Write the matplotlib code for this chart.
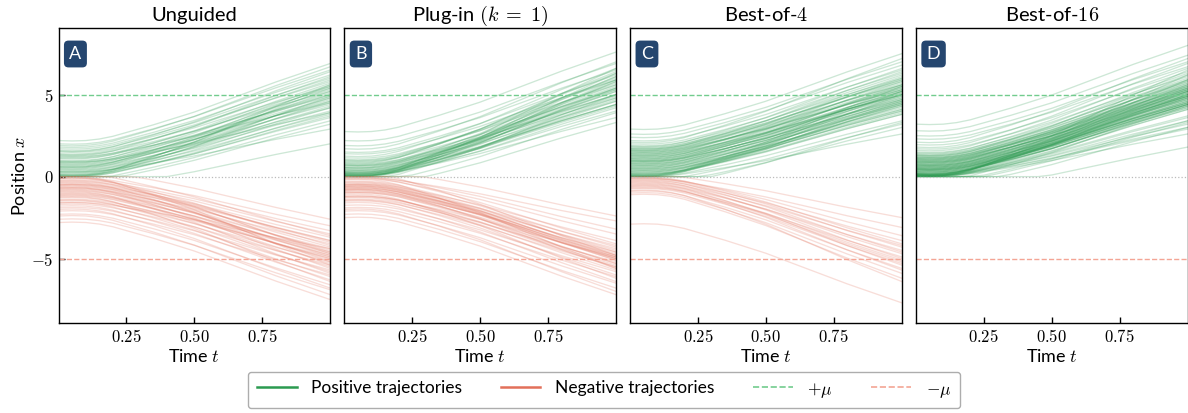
import matplotlib
matplotlib.use("Agg")
import matplotlib.pyplot as plt
from matplotlib.lines import Line2D
from matplotlib.ticker import FuncFormatter
import numpy as np

plt.rcParams['font.family'] = ['Lato', 'DejaVu Sans']
plt.rcParams['mathtext.fontset'] = 'cm'

# time grid and shared trajectory shape (fraction of start->end travel)
t_grid = [0.0, 0.05, 0.1, 0.15, 0.2, 0.25, 0.3, 0.35, 0.4, 0.45, 0.5,
          0.55, 0.6, 0.65, 0.7, 0.75, 0.8, 0.85, 0.9, 0.95, 1.0]
shape = [0.0, -0.005, 0.0, 0.02, 0.055, 0.105, 0.155, 0.205, 0.26, 0.315, 0.37,
         0.435, 0.5, 0.565, 0.63, 0.695, 0.76, 0.82, 0.88, 0.94, 1.0]

titles = ["Unguided", r"Plug-in $(k\;=\;1)$", "Best-of-$4$", "Best-of-$16$"]
panel_tags = ["A", "B", "C", "D"]
mu = 5

# --- Unguided
a_pos_start = [2.2, 2.0, 1.9, 1.8, 1.7, 1.6, 1.55, 1.5, 1.4, 1.35, 1.3, 1.2, 1.15, 1.1, 1.0,
               0.95, 0.9, 0.85, 0.8, 0.75, 0.7, 0.65, 0.6, 0.55, 0.5, 0.45, 0.4, 0.35, 0.3, 0.25,
               0.2, 0.15, 0.1, 0.05, 0.02, 0.08, -0.15, 0.12, 0.03, -0.3, -0.7, 0.6, 0.9, 1.25, 0.3]
a_pos_end = [6.9, 6.5, 6.7, 6.2, 6.0, 5.8, 6.4, 5.5, 5.9, 5.2, 6.1, 5.4, 4.9, 5.7, 5.0,
             5.6, 4.6, 5.3, 4.8, 5.1, 4.4, 5.0, 4.7, 4.2, 5.2, 4.5, 4.0, 4.8, 4.3, 3.8,
             4.6, 5.4, 3.6, 4.9, 3.9, 5.6, 3.4, 4.2, 3.7, 3.2, 2.0, 5.5, 3.9, 4.5, 2.9]
a_neg_start = [-2.8, -2.6, -2.4, -2.3, -2.1, -2.0, -1.9, -1.8, -1.7, -1.6, -1.5, -1.45, -1.4, -1.3, -1.25,
               -1.2, -1.1, -1.05, -1.0, -0.95, -0.9, -0.85, -0.8, -0.75, -0.7, -0.65, -0.6, -0.55, -0.5, -0.45,
               -0.4, -0.35, -0.3, -0.25, -0.2, -0.1, -0.03, -0.08, 0.15, -0.12, 0.4, -1.15, -0.7, -0.5, -1.6]
a_neg_end = [-7.5, -6.9, -7.2, -6.6, -6.0, -6.8, -5.7, -6.3, -5.4, -6.1, -5.2, -5.8, -4.9, -5.5, -6.4,
             -5.0, -4.6, -5.3, -4.8, -5.9, -4.4, -5.1, -4.7, -4.1, -5.6, -4.5, -3.9, -4.9, -4.3, -3.7,
             -5.2, -4.0, -3.5, -4.6, -3.3, -4.2, -5.4, -3.0, -3.6, -4.7, -2.6, -5.0, -4.8, -3.9, -4.4]

# --- Plug-in (k=1)
b_pos_start = [2.75, 2.2, 1.9, 1.7, 1.5, 1.4, 1.25, 1.15, 1.05, 0.95, 0.9, 0.8, 0.75, 0.7, 0.65, 0.6,
               0.55, 0.5, 0.45, 0.4, 0.35, 0.3, 0.25, 0.2, 0.15, 0.1, 0.05, 0.02, 0.07, 0.12, -0.15, 0.04,
               0.18, -0.35, 0.09, 0.28, -0.6, 0.4, 0.7, 0.2, 1.0, 0.14, 0.55, 0.1, 0.3, 0.85, 0.22, 0.06]
b_pos_end = [7.6, 6.9, 6.5, 7.0, 6.2, 5.9, 6.6, 5.6, 6.0, 5.3, 6.3, 5.0, 5.7, 5.4, 4.8, 6.1,
             5.2, 4.6, 5.5, 5.0, 4.4, 5.8, 4.9, 4.3, 5.3, 4.7, 5.8, 4.2, 6.3, 3.6, 5.0, 4.6,
             6.6, 3.9, 5.4, 4.4, 3.3, 5.4, 5.0, 4.4, 5.9, 5.9, 5.6, 4.0, 5.2, 6.4, 6.1, 4.8]
b_neg_start = [-2.5, -2.3, -2.1, -2.0, -1.9, -1.75, -1.6, -1.5, -1.45, -1.4, -1.3, -1.25, -1.2, -1.1,
               -1.0, -0.95, -0.9, -0.85, -0.8, -0.75, -0.7, -0.65, -0.6, -0.55, -0.5, -0.45, -0.4, -0.3,
               -0.2, -0.1, -0.04, 0.15, -0.08, 0.4, -0.6, -0.7, -1.0, -0.5, -0.8, -0.15, -1.2, -0.35]
b_neg_end = [-7.2, -6.8, -6.5, -7.0, -6.1, -5.8, -6.4, -5.5, -6.0, -5.2, -5.7, -4.9, -5.4, -6.2,
             -5.0, -4.6, -5.3, -4.8, -5.6, -4.4, -5.1, -4.7, -4.2, -5.0, -4.5, -3.9, -4.9, -4.3,
             -5.6, -4.1, -3.2, -4.8, -2.7, -2.4, -5.1, -4.9, -5.3, -4.8, -5.0, -3.5, -5.5, -4.6]

# --- Best-of-4
c_pos_start = [2.9, 2.6, 2.4, 2.2, 2.1, 2.0, 1.9, 1.85, 1.8, 1.75,
               1.7, 1.65, 1.6, 1.55, 1.5, 1.45, 1.4, 1.35, 1.3, 1.25,
               1.2, 1.15, 1.1, 1.05, 1.0, 0.95, 0.9, 0.85, 0.8, 0.75,
               0.7, 0.65, 0.6, 0.55, 0.5, 0.45, 0.4, 0.35, 0.3, 0.25,
               0.2, 0.15, 0.1, 0.05, 0.03, 0.08, -0.2, 0.12, -0.4, 0.02,
               1.6, 1.2, 0.9, 0.6, 1.4, 1.0, 0.3, 0.8, 1.7, 0.5,
               1.1, 0.2, 1.3, 0.7, 0.06, 0.4, 1.5, 0.95, 0.15, -0.6]
c_pos_end = [7.5, 7.0, 6.8, 6.5, 7.2, 6.3, 6.0, 6.6, 5.8, 6.2,
             5.6, 6.4, 5.9, 5.3, 6.1, 5.5, 5.7, 5.0, 6.0, 5.4,
             5.2, 5.8, 4.9, 5.5, 5.1, 4.7, 5.6, 5.0, 4.6, 5.3,
             4.8, 4.4, 5.2, 4.5, 4.2, 4.9, 4.3, 4.0, 4.7, 4.1,
             3.8, 4.5, 5.2, 5.0, 3.4, 4.6, 3.2, 5.5, 3.0, 2.6,
             5.6, 5.0, 4.8, 4.4, 5.4, 5.1, 4.3, 4.6, 5.9, 4.1,
             5.2, 3.9, 5.0, 4.5, 4.4, 4.0, 5.3, 4.7, 3.8, 3.3]
c_neg_start = [-2.9, -1.1, -1.0, -0.9, -0.85, -0.75, -0.7, -0.6, -0.55, -0.5, -0.45,
               -0.4, -0.35, -0.3, -0.25, -0.2, -0.1, -0.05, 0.1, -0.15, -0.65, -0.12]
c_neg_end = [-7.7, -6.2, -5.9, -5.6, -6.4, -5.3, -4.9, -5.7, -5.1, -4.5, -5.4,
             -4.7, -4.2, -5.0, -3.9, -4.6, -3.6, -4.1, -2.5, -3.1, -5.2, -4.3]

# --- Best-of-16 (no negative trajectories)
d_pos_start = [3.2, 2.8, 2.5, 2.3, 2.1, 1.95, 1.8, 1.7, 1.6, 1.5,
               1.45, 1.4, 1.35, 1.3, 1.25, 1.2, 1.15, 1.1, 1.05, 1.0,
               0.95, 0.9, 0.85, 0.8, 0.75, 0.7, 0.65, 0.6, 0.55, 0.5,
               0.45, 0.4, 0.35, 0.3, 0.25, 0.2, 0.15, 0.1, 0.05, 0.02,
               0.04, 0.07, 0.12, -0.2, 0.18, 0.03, -0.4, 0.09, -0.6, -0.9,
               1.0, 0.8, 0.6, 0.4, 0.2, 0.9, 0.7, 0.5, 0.3, 0.1,
               1.2, 1.1, 0.65, 0.45, 0.25, 0.06, 0.14, 0.35, 0.55, 0.75,
               1.3, 0.15, 0.85, 0.05, 0.11, 0.95, 0.4, 0.6, 0.2, 1.05,
               0.3, 0.5, 0.1, 0.7, -0.3, 0.9, 0.08, 0.45, 1.15, 0.16]
d_pos_end = [8.0, 7.4, 7.0, 6.7, 7.2, 6.4, 6.9, 6.1, 6.6, 5.9,
             6.3, 5.7, 6.0, 5.5, 6.2, 5.4, 5.8, 5.2, 5.6, 5.0,
             5.9, 5.3, 4.9, 5.7, 5.1, 4.7, 5.5, 4.9, 4.5, 5.3,
             4.8, 4.4, 5.2, 4.6, 4.2, 5.0, 5.6, 3.2, 6.2, 4.1,
             2.9, 5.2, 3.7, 4.3, 4.8, 2.6, 3.3, 5.9, 3.0, 1.8,
             5.4, 5.1, 4.8, 4.6, 4.3, 5.3, 5.0, 4.7, 4.4, 4.4,
             5.6, 5.5, 4.9, 4.5, 4.2, 3.4, 6.5, 4.4, 4.7, 5.0,
             5.8, 4.9, 5.2, 3.0, 5.4, 5.1, 4.5, 4.8, 4.3, 5.4,
             4.4, 4.6, 4.1, 4.9, 3.4, 5.2, 3.6, 4.5, 5.3, 5.0]
d_neg_start = []
d_neg_end = []

panels = [
    (a_pos_start, a_pos_end, a_neg_start, a_neg_end),
    (b_pos_start, b_pos_end, b_neg_start, b_neg_end),
    (c_pos_start, c_pos_end, c_neg_start, c_neg_end),
    (d_pos_start, d_pos_end, d_neg_start, d_neg_end),
]

GREEN = "#2b9a50"
RED = "#e2705a"
MU_GREEN = "#72cc8e"
MU_RED = "#f4a595"
TAG_BG = "#25466f"

t = np.array(t_grid)
prof = np.array(shape)

fig = plt.figure(figsize=(11.88, 4.13), dpi=100)
W, H = 1188, 413
ax_w = 271.6
gap = 14.2
left0 = 58.5
top_px, bot_px = 28.3, 323.3

axes = []
for i in range(4):
    l = left0 + i * (ax_w + gap)
    ax = fig.add_axes([l / W, 1 - bot_px / H, ax_w / W, (bot_px - top_px) / H])
    axes.append(ax)

for i, ax in enumerate(axes):
    ps, pe, ns, ne = panels[i]
    for s, e in zip(ps, pe):
        x = np.maximum(s + (e - s) * prof, 0)
        ax.plot(t, x, color=GREEN, alpha=0.23, lw=0.95)
    for s, e in zip(ns, ne):
        x = np.minimum(s + (e - s) * prof, 0)
        ax.plot(t, x, color=RED, alpha=0.23, lw=0.95)

    ax.axhline(0, color="#bbbbbb", ls=":", lw=0.9)
    ax.axhline(mu, color=MU_GREEN, ls="--", lw=1.0)
    ax.axhline(-mu, color=MU_RED, ls="--", lw=1.0)

    ax.set_xlim(0, 1)
    ax.set_ylim(-8.95, 9.05)
    ax.set_xticks([0.25, 0.5, 0.75])
    ax.set_yticks([-5, 0, 5])
    ax.xaxis.set_major_formatter(FuncFormatter(lambda v, p: f"${v:.2f}$"))
    ax.yaxis.set_major_formatter(FuncFormatter(lambda v, p: f"${v:g}$"))
    ax.tick_params(direction="in", labelsize=12, length=4, width=1)
    if i > 0:
        ax.tick_params(axis="y", left=False, labelleft=False)
    for sp in ax.spines.values():
        sp.set_linewidth(1.0)

    ax.set_title(titles[i], fontsize=14.5, pad=5)
    ax.set_xlabel("Time $t$", fontsize=13, labelpad=2)
    ax.text(0.04, 0.94, panel_tags[i], transform=ax.transAxes, ha="left", va="top",
            color="white", fontsize=13,
            bbox=dict(boxstyle="round,pad=0.3,rounding_size=0.25", fc=TAG_BG, ec="none"))

axes[0].set_ylabel("Position $x$", fontsize=13, labelpad=2)

handles = [
    Line2D([], [], color=GREEN, lw=1.8),
    Line2D([], [], color=RED, lw=1.8),
    Line2D([], [], color=MU_GREEN, lw=1.2, ls="--"),
    Line2D([], [], color=MU_RED, lw=1.2, ls="--"),
]
labels = ["Positive trajectories", "Negative trajectories", r"$+\mu$", r"$-\mu$"]
fig.legend(handles, labels, loc="center", bbox_to_anchor=(604 / W, 1 - 390 / H),
           ncol=4, fontsize=12.5, frameon=True, fancybox=True, edgecolor="#999999",
           handlelength=2.3, handletextpad=0.85, columnspacing=2.2, borderpad=0.5)

fig.savefig("out.png", dpi=100)
